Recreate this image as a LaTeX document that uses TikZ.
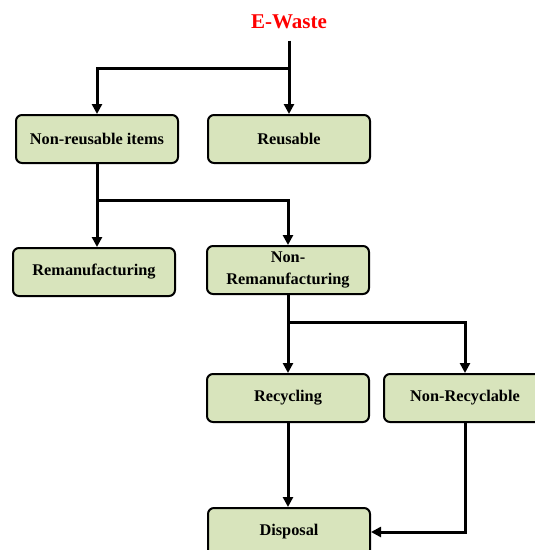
\documentclass[tikz,border=0pt]{standalone}
\usepackage{fontspec}
\setmainfont{Liberation Serif}
\usetikzlibrary{arrows.meta}
\definecolor{boxgreen}{HTML}{D8E4BC}
\begin{document}
\begin{tikzpicture}[x=1pt,y=-1pt,
  stepbox/.style={draw=black,line width=2pt,fill=boxgreen,rounded corners=6pt,
    minimum width=162pt,minimum height=48pt,align=center,inner sep=2pt,
    font=\fontsize{16.3}{22}\selectfont\bfseries},
  conn/.style={line width=3pt,-{Triangle[length=10pt,width=10pt]}},
  plain/.style={line width=3pt}]
\useasboundingbox (0,0) rectangle (535,550);
\clip (0,0) rectangle (535,550);
\node[text=red,font=\fontsize{21}{23}\selectfont\bfseries] (ew) at (289,22) {E-Waste};
\node[stepbox] (nri) at (97,139) {Non-reusable items};
\node[stepbox] (reu) at (289,139) {Reusable};
\node[stepbox] (rem) at (94,272) {Remanufacturing};
\node[stepbox] (nrm) at (288,270) {Non-\\Remanufacturing};
\node[stepbox] (rec) at (288,398) {Recycling};
\node[stepbox] (nrc) at (465,398) {Non-Recyclable};
\node[stepbox] (dis) at (289,532) {Disposal};
\coordinate (j1) at (289,68);
\coordinate (j2) at (97,200);
\coordinate (j3) at (288,322);
\draw[plain] ([yshift=-8pt]ew.south) -- (j1);
\draw[conn] (j1) -- (reu.north);
\draw[conn] (j1) -- (j1 -| nri.north) -- (nri.north);
\draw[plain] (nri.south) -- (j2);
\draw[conn] (j2) -- (rem.north -| j2);
\draw[conn] (j2) -- (j2 -| nrm.north) -- (nrm.north);
\draw[plain] (nrm.south) -- (j3);
\draw[conn] (j3) -- (rec.north);
\draw[conn] (j3) -- (j3 -| nrc.north) -- (nrc.north);
\draw[conn] (rec.south) -- (rec.south |- dis.north);
\draw[conn] (nrc.south) -- (nrc.south |- dis.east) -- (dis.east);
\end{tikzpicture}
\end{document}
